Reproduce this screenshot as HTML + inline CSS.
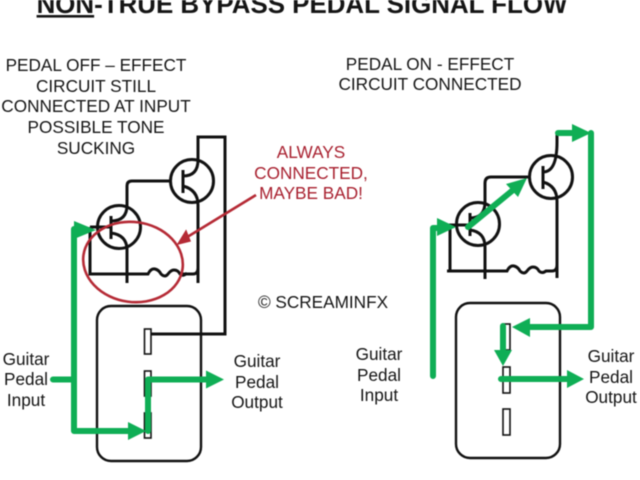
<!DOCTYPE html>
<html><head><meta charset="utf-8"><style>
html,body{margin:0;padding:0;background:#fff;width:640px;height:480px;overflow:hidden}
svg{display:block;filter:blur(.5px)}
text{font-family:"Liberation Sans",sans-serif;fill:#151515;text-anchor:middle;font-size:17.2px}
.r{fill:#a8202f}
.g{stroke:#0fae55;stroke-width:6;fill:none;stroke-linecap:round;stroke-linejoin:round}
.gf{fill:#0fae55;stroke:none}
.k{stroke:#111;stroke-width:3;fill:none}
.s{stroke:#111;stroke-width:1.6;fill:#fff}
</style></head><body>
<svg width="640" height="480" viewBox="0 0 640 480" xmlns="http://www.w3.org/2000/svg">
<text x="302" y="13" style="font-size:25.9px;font-weight:bold" fill="#111"><tspan text-decoration="underline">NON</tspan>-TRUE BYPASS PEDAL SIGNAL FLOW</text>
<text x="96" y="71">PEDAL OFF – EFFECT</text>
<text x="96" y="92">CIRCUIT STILL</text>
<text x="96" y="112">CONNECTED AT INPUT</text>
<text x="96" y="133">POSSIBLE TONE</text>
<text x="96" y="154">SUCKING</text>
<text x="430" y="70">PEDAL ON - EFFECT</text>
<text x="430" y="90">CIRCUIT CONNECTED</text>
<text class="r" x="311" y="158">ALWAYS</text>
<text class="r" x="311" y="179">CONNECTED,</text>
<text class="r" x="311" y="199">MAYBE BAD!</text>
<text x="323" y="308">© SCREAMINFX</text>
<text x="26" y="365">Guitar</text><text x="26" y="385">Pedal</text><text x="26" y="406">Input</text>
<text x="257" y="367">Guitar</text><text x="257" y="388">Pedal</text><text x="257" y="408">Output</text>
<text x="379" y="360">Guitar</text><text x="379" y="381">Pedal</text><text x="379" y="401">Input</text>
<text x="611" y="362">Guitar</text><text x="611" y="383">Pedal</text><text x="611" y="403">Output</text>

<!-- LEFT circuit -->
<g class="k">
<circle cx="192" cy="181" r="21.5"/><circle cx="119" cy="227" r="21.5"/>
<path d="M198 160V137H225V334H151"/>
<path d="M170 181H132Q127 181 127 186V205"/>
<path d="M127 248V283"/>
<path d="M198 205V283"/>
<path d="M90 227H111M90 227V274H148q3-6 7-5t6 5q4 4 7 0t6-4q4 0 6 4 3 3 7-1M180 274H193Q198 274 198 268"/>
<path d="M183 170V193M111 216V239"/>
<path d="M183 176Q198 176 198 160M183 186Q198 190 198 205M111 221Q127 221 127 205M111 233Q127 235 127 250"/>
</g>
<!-- red -->
<ellipse cx="133" cy="262" rx="50" ry="40" fill="none" stroke="#b52a35" stroke-width="2.6" transform="rotate(8 133 262)"/>
<path d="M256 195L184 239" stroke="#b52a35" stroke-width="2.6" fill="none"/>
<path d="M178 244L186 231L190 241Z" fill="#b52a35" stroke="#b52a35" stroke-width="1.500"/>
<!-- LEFT switch -->
<rect x="97" y="306" width="104" height="155" rx="14" fill="none" stroke="#111" stroke-width="2.4"/>
<rect class="s" x="144.500" y="329" width="6.500" height="25"/>
<rect class="s" x="144.500" y="371" width="6.500" height="25"/>
<rect class="s" x="144.500" y="413" width="6.500" height="25"/>
<!-- LEFT green -->
<path class="g" d="M53 379.500H74M74 229V431H130M148 431V379.500H208"/>
<path class="gf" d="M74 221L96 230L74 239Z M128 422L146 431L128 440Z M206 370.500L224 379.500L206 388.500Z"/>

<!-- RIGHT circuit -->
<g class="k">
<circle cx="551" cy="177" r="21.500"/><circle cx="478" cy="224" r="21.500"/>
<path d="M557 133V142M557 201V278"/>
<path d="M528 177H491Q485 177 485 183V202"/>
<path d="M485 246V279"/>
<path d="M449 225H470M450 225V271H447H507q3-6 7-5t6 5q4 4 7 0t6-4q4 0 6 4 3 3 7 0H552Q557 271 557 265"/>
<path d="M543 166V189M470 213V236"/>
<path d="M543 172Q557 172 557 142M543 182Q557 186 557 201M470 218Q485 218 485 202M470 230Q485 232 485 247"/>
</g>
<!-- RIGHT switch -->
<rect x="456" y="303" width="104" height="155" rx="14" fill="none" stroke="#111" stroke-width="2.400"/>
<rect class="s" x="503" y="324" width="7" height="26"/>
<rect class="s" x="503" y="367" width="7" height="26"/>
<rect class="s" x="503" y="409" width="7" height="26"/>
<!-- RIGHT green -->
<path class="g" d="M433 376V228H440M468 227L518 186M558 133H576M591 133V327H528M503 326V352M501 379H568"/>
<path class="gf" d="M437 218L456 227L437 236Z M527 178L506 184L518 197Z M572 124L591 133L572 142Z M512 327L530 318V337Z M494 350H512L503 366Z M567 370L584 379L567 388Z"/>
</svg>
</body></html>
